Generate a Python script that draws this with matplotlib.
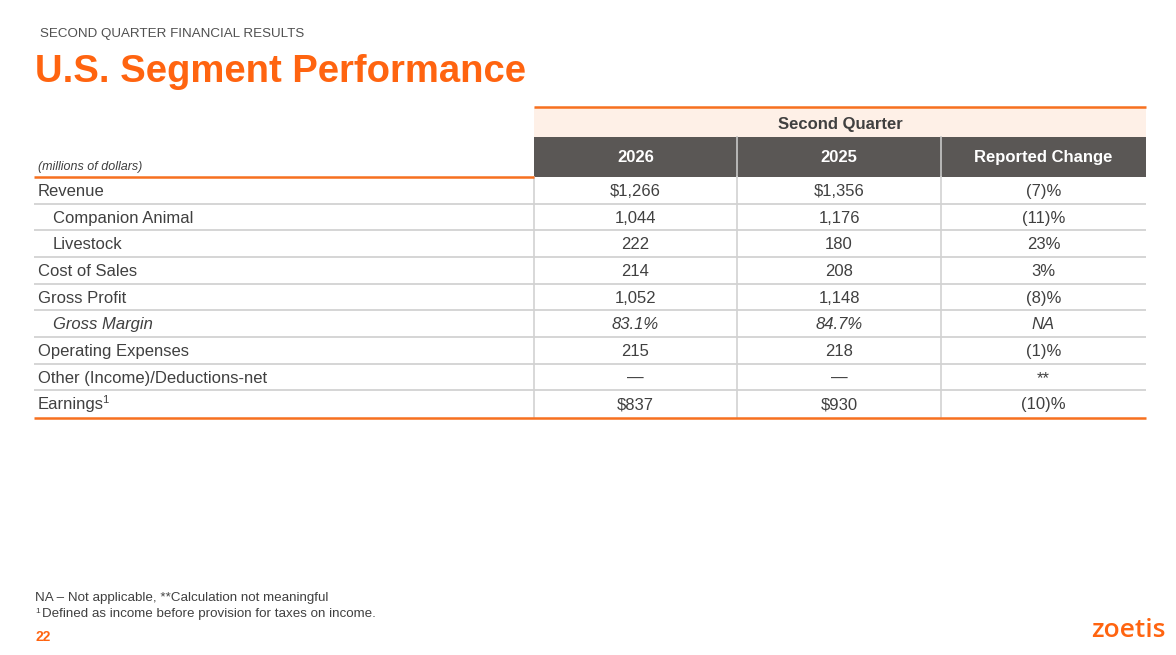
import matplotlib
matplotlib.use("Agg")
import matplotlib.pyplot as plt

plt.rcParams['font.family'] = ['Liberation Sans', 'DejaVu Sans']

# ---- data ----
kicker = "SECOND QUARTER FINANCIAL RESULTS"
title = "U.S. Segment Performance"
units = "(millions of dollars)"
group_header = "Second Quarter"
col_headers = ["2026", "2025", "Reported Change"]
row_labels = ["Revenue", "Companion Animal", "Livestock", "Cost of Sales", "Gross Profit",
              "Gross Margin", "Operating Expenses", "Other (Income)/Deductions-net", "Earnings"]
row_sup = ["", "", "", "", "", "", "", "", "1"]
row_indent = [False, True, True, False, False, True, False, False, False]
row_italic = [False, False, False, False, False, True, False, False, False]
vals_2026 = ["$1,266", "1,044", "222", "214", "1,052", "83.1%", "215", "\u2014", "$837"]
vals_2025 = ["$1,356", "1,176", "180", "208", "1,148", "84.7%", "218", "\u2014", "$930"]
vals_change = ["(7)%", "(11)%", "23%", "3%", "(8)%", "NA", "(1)%", "**", "(10)%"]
footnote1 = "NA \u2013 Not applicable, **Calculation not meaningful"
footnote2_sup = "1"
footnote2 = "Defined as income before provision for taxes on income."
page_no = "22"
logo = "zoetis"

# ---- style ----
ORANGE = "#FF6410"
LINE_OR = "#F7701F"
PEACH = "#FEF0E7"
DARK = "#5A5755"
TXT = "#404040"
GRID = "#D2D2D2"

W, H = 1176, 655
fig = plt.figure(figsize=(W / 100, H / 100), dpi=100)
ax = fig.add_axes([0, 0, 1, 1])
ax.set_xlim(0, W)
ax.set_ylim(H, 0)
ax.axis("off")
renderer = fig.canvas.get_renderer()


def text_right_edge(t):
    bb = t.get_window_extent(renderer=renderer)
    return ax.transData.inverted().transform((bb.x1, bb.y0))[0]


# header texts
ax.text(40, 37, kicker, fontsize=9.6, color="#505050", va="baseline", ha="left")
ax.text(35, 82, title, fontsize=27.5, fontweight="bold", color=ORANGE, va="baseline", ha="left")

# table geometry
x_left, x_c1, x_c2, x_c3, x_right = 34, 534, 737, 941, 1146
col_edges = [x_c1, x_c2, x_c3, x_right]
y_top_or = 107
y_band2 = 137
y_head_bot = 177
n_rows = len(row_labels)
row_h = (417 - y_head_bot) / n_rows

# group header band
ax.add_patch(plt.Rectangle((x_c1, y_top_or), x_right - x_c1, y_band2 - y_top_or, color=PEACH, lw=0))
ax.plot([x_c1, x_right], [y_top_or, y_top_or], color=LINE_OR, lw=1.8, solid_capstyle="butt")
ax.text((x_c1 + x_right) / 2, 129, group_header, fontsize=12, fontweight="bold", color=TXT,
        ha="center", va="baseline")

# dark column header
ax.add_patch(plt.Rectangle((x_c1, y_band2), x_right - x_c1, y_head_bot - y_band2, color=DARK, lw=0))
for xe in [x_c2, x_c3]:
    ax.plot([xe, xe], [y_band2, y_head_bot], color="#C8C8C8", lw=1.2)
for i, h in enumerate(col_headers):
    cx = (col_edges[i] + col_edges[i + 1]) / 2
    ax.text(cx, 162, h, fontsize=12, fontweight="bold", color="white", ha="center", va="baseline")

ax.text(38, 170, units, fontsize=9, style="italic", color=TXT, ha="left", va="baseline")

# rows
for r in range(n_rows):
    top = y_head_bot + r * row_h
    base = top + 19
    st = "italic" if row_italic[r] else "normal"
    lx = 53 if row_indent[r] else 38
    t = ax.text(lx, base, row_labels[r], fontsize=12, color=TXT, style=st, ha="left", va="baseline")
    if row_sup[r]:
        xr = text_right_edge(t)
        ax.text(xr - 1.5, base - 6, row_sup[r], fontsize=8, color=TXT, ha="left", va="baseline")
    for i, vals in enumerate([vals_2026, vals_2025, vals_change]):
        cx = (col_edges[i] + col_edges[i + 1]) / 2
        ax.text(cx, base, vals[r], fontsize=12, color=TXT, style=st, ha="center", va="baseline")
    if r > 0:
        ax.plot([x_left, x_right], [top, top], color=GRID, lw=1.3, solid_capstyle="butt")

# vertical separators
for xe in [x_c1, x_c2, x_c3]:
    ax.plot([xe, xe], [y_head_bot, 417], color=GRID, lw=1.2)

# orange rules
ax.plot([x_left, x_c1], [176.5, 176.5], color=LINE_OR, lw=1.8, solid_capstyle="butt")
ax.plot([x_left, x_right], [417.5, 417.5], color=LINE_OR, lw=1.8, solid_capstyle="butt")

# footnotes
ax.text(35, 601, footnote1, fontsize=9.6, color=TXT, ha="left", va="baseline")
ax.text(35, 613, footnote2_sup, fontsize=6, color=TXT, ha="left", va="baseline")
ax.text(42, 617, footnote2, fontsize=9.6, color=TXT, ha="left", va="baseline")
ax.text(36, 641, page_no, fontsize=10, fontweight="bold", color=ORANGE, ha="left", va="baseline")

# logo
ax.text(1166, 637, logo, fontsize=19, color=ORANGE, family=["Open Sans", "DejaVu Sans"],
        fontweight="semibold", ha="right", va="baseline")

fig.savefig("out.png", dpi=100)
